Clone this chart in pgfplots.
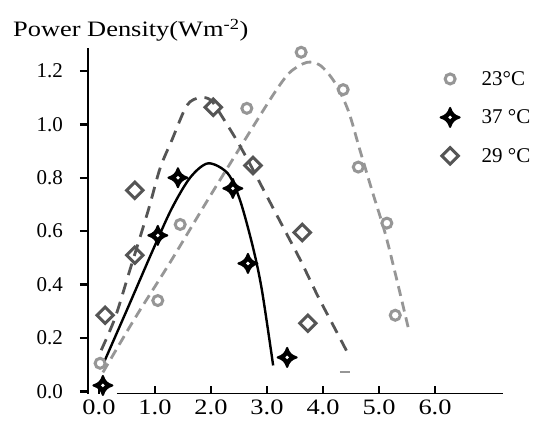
\documentclass[border=0pt]{standalone}
\usepackage{fontspec}
\setmainfont{Liberation Serif}
\newfontfamily\widefont{Liberation Serif}[FakeStretch=1.2]
\usepackage{pgfplots}
\pgfplotsset{compat=1.18}

\definecolor{grayA}{RGB}{150,150,150}
\definecolor{grayC}{RGB}{85,85,85}

% four-pointed star with a white eye
\pgfdeclareplotmark{fourstar}{%
  \pgfsetlinewidth{2pt}
  \pgfsetroundjoin
  \pgfpathmoveto{\pgfqpoint{0pt}{9.5pt}}
  \pgfpathcurveto{\pgfqpoint{1.8pt}{4pt}}{\pgfqpoint{4pt}{1.8pt}}{\pgfqpoint{9.5pt}{0pt}}
  \pgfpathcurveto{\pgfqpoint{4pt}{-1.8pt}}{\pgfqpoint{1.8pt}{-4pt}}{\pgfqpoint{0pt}{-9.5pt}}
  \pgfpathcurveto{\pgfqpoint{-1.8pt}{-4pt}}{\pgfqpoint{-4pt}{-1.8pt}}{\pgfqpoint{-9.5pt}{0pt}}
  \pgfpathcurveto{\pgfqpoint{-4pt}{1.8pt}}{\pgfqpoint{-1.8pt}{4pt}}{\pgfqpoint{0pt}{9.5pt}}
  \pgfpathclose
  \pgfusepathqfillstroke
  \begin{pgfscope}
    \pgfsetfillcolor{white}
    \pgfpathcircle{\pgfpointorigin}{1.9pt}
    \pgfusepathqfill
  \end{pgfscope}
}

\begin{document}
\begin{tikzpicture}
\useasboundingbox (-88pt,-33pt) rectangle (448pt,394pt);
\begin{axis}[
  at={(0,0)}, anchor=south west,
  scale only axis, width=415pt, height=346pt,
  xmin=-0.196, xmax=7.214, ymin=-0.01, ymax=1.286,
  axis y line=left, axis x line=bottom,
  axis line style={-, line width=2.6pt},
  x axis line style={draw=none},
  xtick={0,1,2,3,4,5,6},
  ytick={0,0.2,0.4,0.6,0.8,1.0,1.2},
  x tick label style={font=\widefont\fontsize{22}{26}\selectfont, inner sep=0pt, anchor=north, yshift=-6pt,
    /pgf/number format/.cd, fixed, fixed zerofill, precision=1, assume math mode=true},
  y tick label style={font=\fontsize{21}{25}\selectfont, inner sep=0pt, anchor=east, xshift=-17pt,
    /pgf/number format/.cd, fixed, fixed zerofill, precision=1, assume math mode=true},
  xtick align=inside, ytick align=outside,
  major tick length=8pt,
  tick style={line width=2.4pt, black},
  legend style={at={(rel axis cs:0.842,0.945)}, anchor=north west, draw=none, fill=none,
    font=\fontsize{21}{25}\selectfont, row sep=19pt, column sep=20pt},
  legend cell align=left,
]
% fitted curves
\addplot[grayA, line width=2.8pt, dash pattern=on 10pt off 6pt, smooth, forget plot] coordinates {
  (0.07,0.071) (0.64,0.273) (1.27,0.483) (1.98,0.730) (2.70,0.974) (3.14,1.120)
  (3.41,1.195) (3.71,1.232) (3.95,1.221) (4.21,1.157) (4.45,1.052) (4.66,0.903)
  (4.89,0.742) (5.11,0.592) (5.32,0.416) (5.52,0.240)};
\addplot[black, line width=2.4pt, smooth, forget plot] coordinates {
  (0.05,0.090) (0.52,0.315) (0.96,0.528) (1.30,0.685) (1.63,0.801) (1.95,0.854)
  (2.30,0.816) (2.52,0.715) (2.75,0.539) (2.91,0.378) (3.11,0.097)};
\addplot[grayC, line width=2.8pt, dash pattern=on 12pt off 8pt, smooth, forget plot] coordinates {
  (0.04,0.154) (0.29,0.277) (0.55,0.453) (0.88,0.678) (1.09,0.835) (1.30,0.940)
  (1.57,1.071) (1.80,1.100) (2.00,1.090) (2.21,1.025) (2.46,0.940) (2.70,0.850)
  (3.00,0.730) (3.30,0.610) (3.60,0.490) (3.90,0.360) (4.20,0.240) (4.45,0.140)};
\addplot[grayA, line width=1.6pt, forget plot] coordinates {(4.30,0.072) (4.48,0.072)};
% measured points
\addplot[only marks, mark=*, mark size=5pt, mark options={draw=grayA, fill=white, line width=3pt}] coordinates {
  (0.02,0.105) (1.05,0.34) (1.45,0.625) (2.64,1.06) (3.61,1.27) (4.36,1.13)
  (4.63,0.84) (5.14,0.63) (5.29,0.285)};
\addlegendentry{23°C}
\addplot[only marks, mark=fourstar, black] coordinates {
  (0.07,0.022) (1.05,0.584) (1.41,0.80) (2.39,0.76) (2.66,0.479) (3.36,0.127)};
\addlegendentry{37 °C}
\addplot[only marks, mark=square, mark size=5.8pt, grayC, mark options={rotate=45, line width=3pt}] coordinates {
  (0.11,0.285) (0.64,0.51) (0.64,0.753) (2.04,1.064) (2.75,0.846) (3.63,0.595)
  (3.73,0.255)};
\addlegendentry{29 °C}
\draw[line width=2.6pt] (axis cs:0.32,-0.01) -- (axis cs:7.214,-0.01);
\end{axis}
\node[anchor=base west, inner sep=0pt, font=\widefont\fontsize{22}{26}\selectfont] at (-75pt,357pt) {Power Density(Wm\textsuperscript{-2})};
\end{tikzpicture}
\end{document}
